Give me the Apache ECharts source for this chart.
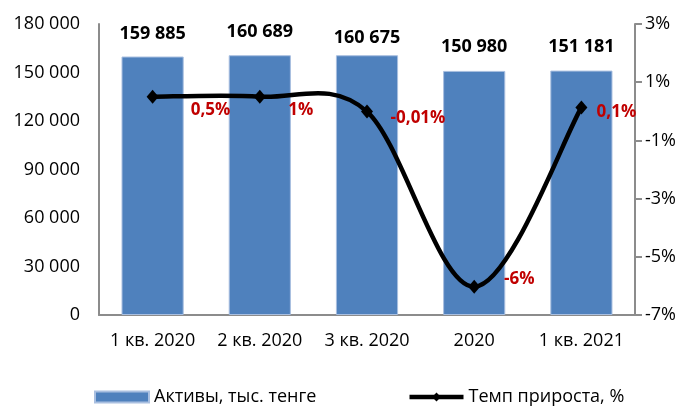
<!DOCTYPE html>
<html>
<head>
<meta charset="utf-8">
<script src="https://cdn.jsdelivr.net/npm/echarts@6/dist/echarts.min.js"></script>
<style>
html,body{margin:0;padding:0;background:#fff;}
#c{width:692px;height:406px;}
</style>
</head>
<body>
<div id="c"></div>
<script>
// ---- data ----
var categories = ['1 кв. 2020', '2 кв. 2020', '3 кв. 2020', '2020', '1 кв. 2021'];
var assets = [159885, 160689, 160675, 150980, 151181];
var growth = [0.5, 0.503, -0.009, -6.03, 0.13];
var growthLabels = ['0,5%', '1%', '-0,01%', '-6%', '0,1%'];
var assetLabels = ['159 885', '160 689', '160 675', '150 980', '151 181'];
var leftTicks = { min: 0, max: 180000, interval: 30000 };
var rightTicks = { min: -7, max: 3, interval: 2 };
var seriesNames = ['Активы, тыс. тенге', 'Темп прироста, %'];

// ---- layout / style (not data) ----
var barLabelDistance = [14, 14, 8, 15, 15];
var lineLabelOffset = [[58, 13], [41, 13], [51, 7], [45, -8], [35, 5]];
var FONT = '"Open Sans", "Noto Sans", sans-serif';
var LINE_W = 4.5;

function fmtThousands(v) {
  return String(v).replace(/\B(?=(\d{3})+(?!\d))/g, ' ');
}

var chart = echarts.init(document.getElementById('c'), null, { renderer: 'canvas' });

var barData = assets.map(function (v, i) {
  return {
    value: v,
    label: { distance: barLabelDistance[i], formatter: assetLabels[i] }
  };
});
var lineData = growth.map(function (v, i) {
  return {
    value: v,
    label: { offset: lineLabelOffset[i], formatter: growthLabels[i] }
  };
});

// Excel-like (Catmull-Rom) smoothed curve through the growth points, positioned via api.coord
function renderSmooth(params, api) {
  if (params.dataIndex !== 0) return null;
  var pts = growth.map(function (v, i) { return api.coord([i, v]); });
  var n = pts.length;
  var children = [];
  for (var i = 0; i < n - 1; i++) {
    var p0 = pts[Math.max(i - 1, 0)], p1 = pts[i], p2 = pts[i + 1], p3 = pts[Math.min(i + 2, n - 1)];
    children.push({
      type: 'bezierCurve',
      shape: {
        x1: p1[0], y1: p1[1], x2: p2[0], y2: p2[1],
        cpx1: p1[0] + (p2[0] - p0[0]) / 6, cpy1: p1[1] + (p2[1] - p0[1]) / 6,
        cpx2: p2[0] - (p3[0] - p1[0]) / 6, cpy2: p2[1] - (p3[1] - p1[1]) / 6
      },
      style: { stroke: '#000', lineWidth: LINE_W, fill: null, lineCap: 'round' }
    });
  }
  return { type: 'group', children: children };
}

chart.setOption({
  animation: false,
  textStyle: { fontFamily: FONT },
  grid: { left: 99, right: 57, top: 24, bottom: 91, containLabel: false },
  legend: {
    left: 94,
    top: 388,
    padding: 0,
    itemWidth: 54,
    itemHeight: 11,
    itemGap: 91,
    textStyle: { fontFamily: FONT, fontSize: 18, color: '#000' },
    data: [
      { name: seriesNames[0], icon: 'rect' },
      { name: seriesNames[1], lineStyle: { width: LINE_W, color: '#000', opacity: 1 }, itemStyle: { color: '#000' } }
    ]
  },
  xAxis: {
    type: 'category',
    data: categories,
    axisLine: { lineStyle: { color: '#8c8c8c', width: 2 } },
    axisTick: { show: false },
    axisLabel: { color: '#000', fontSize: 18, fontFamily: FONT, margin: 17, interval: 0 }
  },
  yAxis: [
    {
      type: 'value',
      min: leftTicks.min, max: leftTicks.max, interval: leftTicks.interval,
      axisLine: { show: true, lineStyle: { color: '#8c8c8c', width: 2 } },
      axisTick: { show: false },
      splitLine: { show: false },
      axisLabel: { color: '#000', fontSize: 18, fontFamily: FONT, margin: 19,
        formatter: function (v) { return fmtThousands(v); } }
    },
    {
      type: 'value',
      position: 'right',
      min: rightTicks.min, max: rightTicks.max, interval: rightTicks.interval,
      axisLine: { show: true, lineStyle: { color: '#8c8c8c', width: 2 } },
      axisTick: { show: true, length: 7, lineStyle: { color: '#8c8c8c', width: 2 } },
      splitLine: { show: false },
      axisLabel: { color: '#000', fontSize: 18, fontFamily: FONT, margin: 10, align: 'left',
        formatter: function (v) { return v + '%'; } }
    }
  ],
  series: [
    {
      name: seriesNames[0],
      type: 'bar',
      yAxisIndex: 0,
      barWidth: '58%',
      itemStyle: { color: '#4F81BD', borderColor: '#a9bfe0', borderWidth: 1 },
      label: {
        show: true, position: 'top', color: '#000', fontWeight: 'bold',
        fontSize: 18, fontFamily: FONT
      },
      data: barData,
      z: 1
    },
    {
      name: 'curve',
      type: 'custom',
      yAxisIndex: 1,
      renderItem: renderSmooth,
      data: growth,
      silent: true,
      z: 4
    },
    {
      name: seriesNames[1],
      type: 'line',
      yAxisIndex: 1,
      symbol: 'diamond',
      symbolSize: [12, 14],
      itemStyle: { color: '#000' },
      lineStyle: { color: '#000', width: LINE_W, opacity: 0 },
      label: {
        show: true, position: 'inside', color: '#C00000', fontWeight: 'bold',
        fontSize: 17, fontFamily: FONT
      },
      data: lineData,
      z: 5
    }
  ]
});
</script>
</body>
</html>
